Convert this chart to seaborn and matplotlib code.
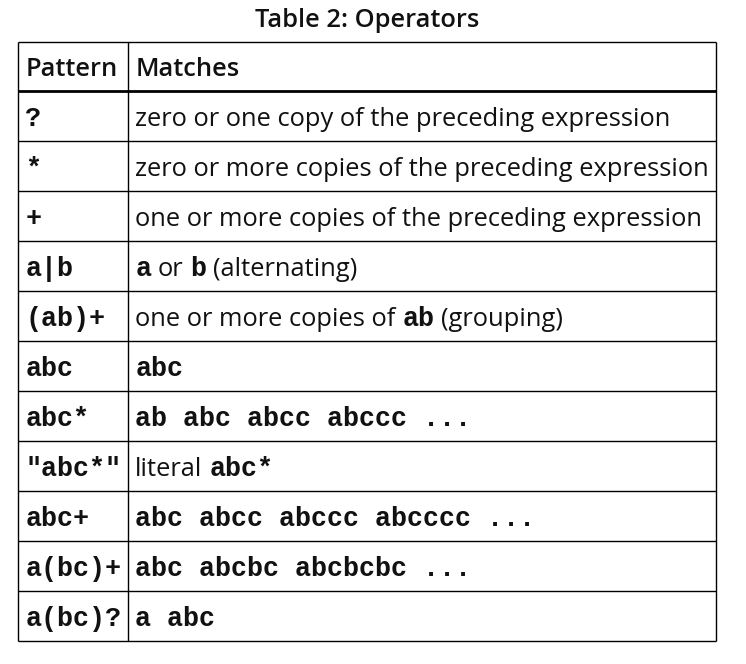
import matplotlib
matplotlib.use('Agg')
import matplotlib.pyplot as plt
import seaborn as sns

# table content
title = 'Table 2: Operators'
headers = ['Pattern', 'Matches']
patterns = ['?', '*', '+', 'a|b', '(ab)+', 'abc', 'abc*', '"abc*"', 'abc+', 'a(bc)+', 'a(bc)?']
matches = [
    [('zero or one copy of the preceding expression', 'sans')],
    [('zero or more copies of the preceding expression', 'sans')],
    [('one or more copies of the preceding expression', 'sans')],
    [('a', 'mono'), (' or ', 'sans'), ('b', 'mono'), (' (alternating)', 'sans')],
    [('one or more copies of ', 'sans'), ('ab', 'mono'), (' (grouping)', 'sans')],
    [('abc', 'mono')],
    [('ab abc abcc abccc ...', 'mono')],
    [('literal ', 'sans'), ('abc*', 'mono')],
    [('abc abcc abccc abcccc ...', 'mono')],
    [('abc abcbc abcbcbc ...', 'mono')],
    [('a abc', 'mono')],
]

styles = {
    'sans': dict(family='Open Sans', size=18.4, color='#111111'),
    'mono': dict(family='Liberation Mono', weight='bold', size=19.3, color='#111111'),
    'head': dict(family='Open Sans', weight='semibold', size=18.4, color='#111111'),
}

# layout (pixels)
W, H = 746, 664
col_edges = [18.3, 128.3, 716]
top = 42
head_bottom = 90.6
row_h = 50
pad = 7
base_off = 10

sns.set_theme(style='white')
fig = plt.figure(figsize=(W / 100, H / 100), dpi=100)
ax = fig.add_axes([0, 0, 1, 1])
ax.set_xlim(0, W)
ax.set_ylim(H, 0)
ax.axis('off')
r = fig.canvas.get_renderer()


def textWidth(s, st):
    t = ax.text(0, 0, '|' + s + '|', **st)
    w1 = t.get_window_extent(r).width
    t.remove()
    t = ax.text(0, 0, '||', **st)
    w0 = t.get_window_extent(r).width
    t.remove()
    return w1 - w0


def drawSegments(x, y, segs):
    for s, k in segs:
        st = styles[k]
        core = s.strip(' ')
        lead = len(s) - len(s.lstrip(' '))
        trail = len(s) - len(s.rstrip(' '))
        sp = textWidth(' ', st)
        x += sp * lead
        ax.text(x, y, core, ha='left', va='baseline', **st)
        x += textWidth(core, st)
        x += sp * trail


n = len(patterns)
bottom = head_bottom + row_h * n
row_lines = [head_bottom + row_h * (i + 1) for i in range(n)]

# borders
ax.hlines(top, col_edges[0], col_edges[-1], color='black', lw=1.0)
ax.hlines(head_bottom, col_edges[0], col_edges[-1], color='black', lw=2.0)
ax.hlines(row_lines, col_edges[0], col_edges[-1], color='black', lw=1.0)
ax.vlines(col_edges, top, bottom, color='black', lw=1.0)

# title
ax.text((col_edges[0] + col_edges[-1]) / 2, 27.3, title, ha='center', va='baseline', **styles['head'])

# header
hy = (top + head_bottom) / 2 + base_off
for i, h in enumerate(headers):
    ax.text(col_edges[i] + pad, hy, h, ha='left', va='baseline', **styles['head'])

# rows
for i in range(n):
    y0 = head_bottom + row_h * i
    y = y0 + row_h / 2 + base_off
    drawSegments(col_edges[0] + pad, y, [(patterns[i], 'mono')])
    drawSegments(col_edges[1] + pad, y, matches[i])

fig.savefig('out.png', dpi=100, facecolor='white')
